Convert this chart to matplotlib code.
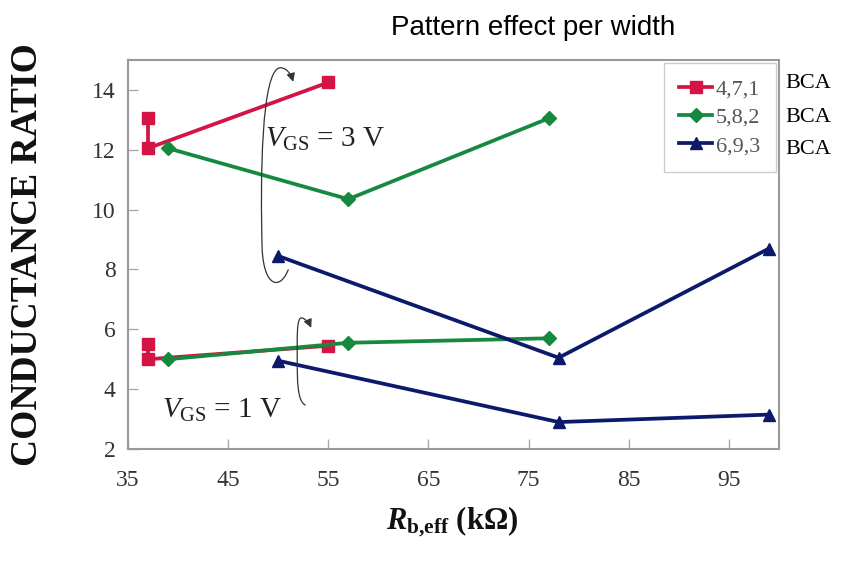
import matplotlib
matplotlib.use('Agg')
import matplotlib.pyplot as plt
from matplotlib.path import Path
from matplotlib.patches import FancyArrowPatch

plt.rcParams['mathtext.fontset'] = 'custom'
plt.rcParams['mathtext.rm'] = 'Liberation Serif'
plt.rcParams['mathtext.it'] = 'Liberation Serif:italic'
plt.rcParams['mathtext.bf'] = 'Liberation Serif:bold'
plt.rcParams['mathtext.bfit'] = 'Liberation Serif:bold:italic'

# data (R_b,eff in kOhm, conductance ratio)
labels = ['4,7,1', '5,8,2', '6,9,3']
colors = ['#d41444', '#17893f', '#0d1a6b']
markers = ['s', 'D', '^']

x_471 = [37, 37, 55]
y_471_3v = [13.05, 12.05, 14.25]
y_471_1v = [5.5, 5.0, 5.45]

x_582 = [39, 57, 77]
y_582_3v = [12.05, 10.35, 13.05]
y_582_1v = [5.0, 5.55, 5.7]

x_693 = [50, 78, 99]
y_693_3v = [8.45, 5.05, 8.7]
y_693_1v = [4.95, 2.9, 3.15]

xticks = [35, 45, 55, 65, 75, 85, 95]
yticks = [2, 4, 6, 8, 10, 12, 14]

fig = plt.figure(figsize=(8.6, 5.66), dpi=100)
ax = fig.add_axes([0.1488, 0.2067, 0.7570, 0.6873])

series = [(x_471, y_471_3v, y_471_1v), (x_582, y_582_3v, y_582_1v), (x_693, y_693_3v, y_693_1v)]
for (x, y3, y1), lab, c, m in zip(series, labels, colors, markers):
    ms = 9 if m != 'D' else 7.5
    ax.plot(x, y3, color=c, lw=2.7, marker=m, ms=ms, mec=c, mfc=c, label=lab, clip_on=False, zorder=3)
    ax.plot(x, y1, color=c, lw=2.7, marker=m, ms=ms, mec=c, mfc=c, clip_on=False, zorder=3)

ax.set_xlim(35, 100)
ax.set_ylim(2, 15)
ax.set_xticks(xticks)
ax.set_yticks(yticks)
ax.tick_params(direction='in', length=7, width=1, color='#aaaaaa', labelcolor='#333333', labelsize=17, pad=9)
ax.tick_params(axis='x', pad=15)
for lab in ax.get_xticklabels() + ax.get_yticklabels():
    lab.set_family('Liberation Serif')
for s in ax.spines.values():
    s.set_color('#999999')
    s.set_linewidth(1.5)

leg = ax.legend(loc='upper right', prop={'family': 'Liberation Serif', 'size': 16},
                labelcolor='#555555', handlelength=1.5, handletextpad=0.15,
                labelspacing=0.35, borderaxespad=0.15, fancybox=False, framealpha=1,
                edgecolor='#cccccc', borderpad=0.7)

for i in range(3):
    fig.text(785 / 860, 1 - (84 + 33 * i) / 566, 'BCA', family='Liberation Serif',
             fontsize=16, va='center', ha='left', color='black')

# curved arrows around the two groups
loop3 = Path([(51.0, 7.99), (50.2, 7.3), (48.6, 7.4), (48.4, 8.66),
              (48.2, 11.0), (48.3, 14.7), (50.2, 14.74),
              (50.9, 14.74), (51.3, 14.5), (51.5, 14.27)],
             [Path.MOVETO, Path.CURVE4, Path.CURVE4, Path.CURVE4,
              Path.CURVE4, Path.CURVE4, Path.CURVE4,
              Path.CURVE4, Path.CURVE4, Path.CURVE4])
loop1 = Path([(52.7, 3.47), (51.9, 3.6), (51.9, 4.3), (51.9, 4.98),
              (51.9, 5.7), (51.8, 6.45), (52.4, 6.38),
              (52.8, 6.33), (53.1, 6.2), (53.3, 6.05)],
             [Path.MOVETO, Path.CURVE4, Path.CURVE4, Path.CURVE4,
              Path.CURVE4, Path.CURVE4, Path.CURVE4,
              Path.CURVE4, Path.CURVE4, Path.CURVE4])
for p in (loop3, loop1):
    ax.add_patch(FancyArrowPatch(path=p, arrowstyle='-|>,head_length=5,head_width=2.5',
                                 color='#333333', lw=0.9, zorder=4))

ax.text(48.7, 12.35, r'$V_{\mathrm{GS}}$ = 3 V', family='Liberation Serif', fontsize=21,
        ha='left', va='center', color='#222222', zorder=5)
ax.text(38.4, 3.3, r'$V_{\mathrm{GS}}$ = 1 V', family='Liberation Serif', fontsize=21,
        ha='left', va='center', color='#222222', zorder=5,
        bbox=dict(facecolor='white', edgecolor='none', pad=1))

ax.set_ylabel('CONDUCTANCE RATIO', family='Liberation Serif', fontweight='bold',
              fontsize=27, color='#111111')
ax.yaxis.set_label_coords(-0.128, 0.5)
fig.text(452 / 860, 1 - 522 / 566, r'$\mathbfit{R}_{\mathbf{b{,}eff}}$ (k$\mathbf{\Omega}$)',
         family='Liberation Serif', fontweight='bold', fontsize=22, ha='center', va='center',
         color='#111111')

fig.text(533 / 860, 1 - 28 / 566, 'Pattern effect per width', family='Liberation Sans',
         fontsize=20, ha='center', va='center', color='black')

fig.savefig('out.png', dpi=100)
